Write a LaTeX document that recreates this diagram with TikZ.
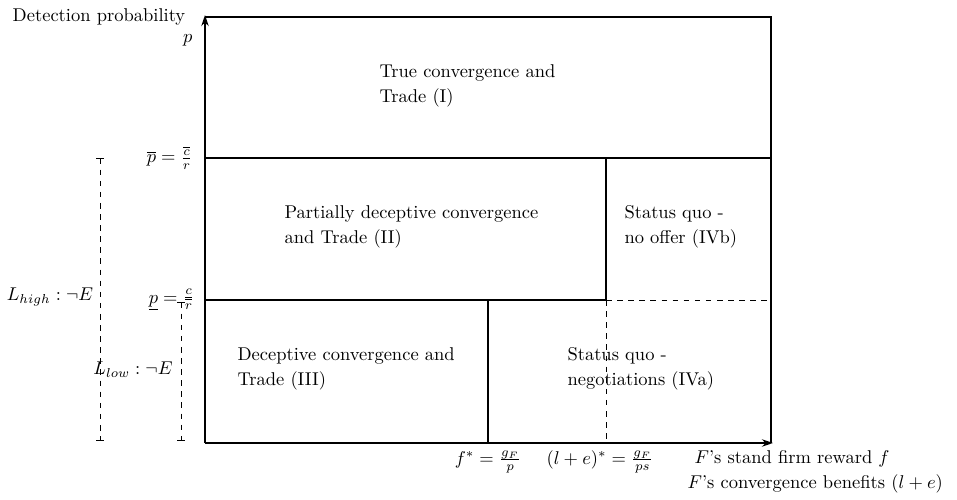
\documentclass[tikz,border=0pt]{standalone}
\usepackage{amsmath}
\usepackage{amssymb}
\usetikzlibrary{positioning, arrows.meta}

\begin{document}
\begin{tikzpicture}[x=0.019cm, y=0.019cm,
  border/.style={line width=1.5pt},
  region/.style={align=left, anchor=west},
  rangeline/.style={dashed, {Bar[width=4pt]}-{Bar[width=4pt]}}]
\useasboundingbox (-205,-56) rectangle (752,443);
% Axes
\coordinate (origin) at (0,0);
\coordinate (xend) at (568,0);
\coordinate (yend) at (0,428);
\draw[border, -{Stealth[length=6pt, width=4pt]}] (origin) -- (xend);
\draw[border, -{Stealth[length=6pt, width=4pt]}] (origin) -- (yend);

% Region borders
\coordinate (topleft) at (0,426);
\coordinate (topright) at (566,426);
\coordinate (botright) at (566,0);
\coordinate (hiL) at (0,285);
\coordinate (hiR) at (566,285);
\coordinate (hiM) at (401,285);
\coordinate (loL) at (0,143);
\coordinate (loM) at (401,143);
\coordinate (loR) at (566,143);
\coordinate (fstar) at (283,143);
\coordinate (fstarB) at (283,0);
\coordinate (lestarB) at (401,0);
\draw[border] (topleft) -- (topright) -- (botright);
\draw[border] (hiL) -- (hiR);
\draw[border] (hiM) -- (loM) -- (loL);
\draw[border] (fstar) -- (fstarB);
\draw[dashed] (loM) -- (loR);
\draw[dashed] (loM) -- (lestarB);

% Regions
\node[region] (trade1) at (168,357) {True convergence and\\[1.5pt]Trade (I)};
\node[region] (trade2) at (73,216) {Partially deceptive convergence\\[1.5pt]and Trade (II)};
\node[region] (ivb) at (413,216) {Status quo -\\[1.5pt]no offer (IVb)};
\node[region] (trade3) at (26,74) {Deceptive convergence and\\[1.5pt]Trade (III)};
\node[region] (iva) at (356,74) {Status quo -\\[1.5pt]negotiations (IVa)};

% Axis labels
\node (detect) at (-106,426) {Detection probability};
\node[anchor=east] (plabel) at (-6,403) {$p$};
\node[anchor=east] (phigh) at (-6,285) {$\overline{p}=\frac{\overline{c}}{r}$};
\node[anchor=east] (plow) at (-4,143) {$\underline{p}=\frac{\underline{c}}{r}$};
\node (flabel) at (283,-19) {$f^*=\frac{g_F}{p}$};
\node (lelabel) at (395,-19) {$(l+e)^*=\frac{g_F}{ps}$};
\node[anchor=west] (reward) at (483,-16) {$F$'s stand firm reward $f$};
\node[anchor=west] (benefit) at (476,-41) {$F$'s convergence benefits $(l+e)$};

% Ranges
\coordinate (hightop) at (-105,285);
\coordinate (highbot) at (-105,2);
\coordinate (lowtop) at (-24,141);
\coordinate (lowbot) at (-24,2);
\draw[rangeline] (hightop) -- (highbot);
\draw[rangeline] (lowtop) -- (lowbot);
\node (lhigh) at (-155,146) {$L_{high}:\neg E$};
\node (llow) at (-72,73) {$L_{low}:\neg E$};
\end{tikzpicture}
\end{document}
